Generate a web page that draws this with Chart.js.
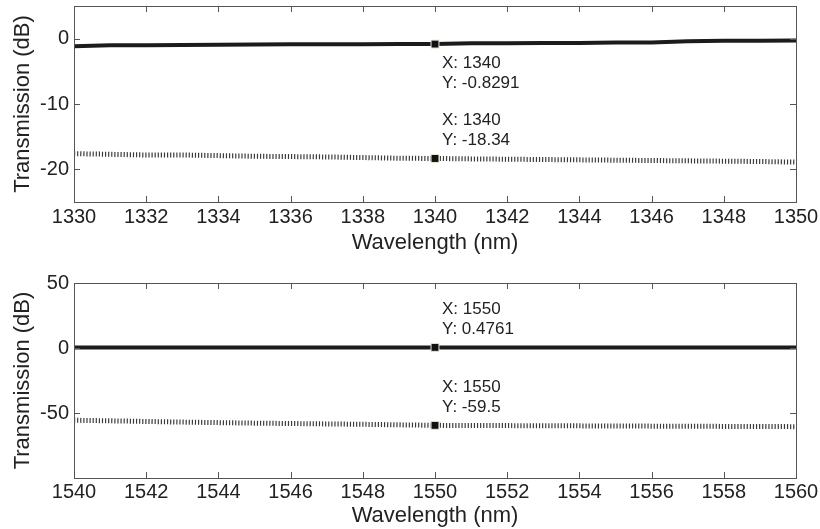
<!DOCTYPE html>
<html>
<head>
<meta charset="utf-8">
<script src="https://cdn.jsdelivr.net/npm/chart.js@4/dist/chart.umd.min.js"></script>
<style>
  body { margin: 0; background: #fff; }
  canvas { position: absolute; left: 0; }
  #topChart { top: 0; }
  #bottomChart { top: 258px; }
</style>
</head>
<body>
<canvas id="topChart" width="820" height="258"></canvas>
<canvas id="bottomChart" width="820" height="271"></canvas>
<script>
// 1310 nm band
const wlO = [1330, 1331, 1332, 1333, 1334, 1335, 1336, 1337, 1338, 1339, 1340,
             1341, 1342, 1343, 1344, 1345, 1346, 1347, 1348, 1349, 1350];
const thruO = [-1.15, -1.0, -1.0, -0.98, -0.95, -0.88, -0.86, -0.84, -0.84, -0.83, -0.8291,
               -0.72, -0.7, -0.68, -0.66, -0.6, -0.58, -0.38, -0.32, -0.3, -0.28];
const crossO = [-17.6, -17.7, -17.8, -17.8, -17.9, -18.0, -18.05, -18.1, -18.2, -18.3, -18.34,
                -18.4, -18.45, -18.5, -18.55, -18.6, -18.65, -18.7, -18.75, -18.8, -18.9];
const xTicksO = [1330, 1332, 1334, 1336, 1338, 1340, 1342, 1344, 1346, 1348, 1350];
const yTicksO = [-20, -10, 0];
const tipO = 1340;

// 1550 nm band
const wlC = [1540, 1541, 1542, 1543, 1544, 1545, 1546, 1547, 1548, 1549, 1550,
             1551, 1552, 1553, 1554, 1555, 1556, 1557, 1558, 1559, 1560];
const thruC = [0.45, 0.46, 0.46, 0.47, 0.47, 0.47, 0.48, 0.48, 0.48, 0.48, 0.4761,
               0.47, 0.47, 0.46, 0.46, 0.46, 0.45, 0.45, 0.45, 0.44, 0.44];
const crossC = [-55.6, -56.0, -56.5, -57.0, -57.4, -57.8, -58.1, -58.4, -58.7, -59.1, -59.5,
                -59.6, -59.7, -59.8, -59.9, -60.0, -60.1, -60.2, -60.3, -60.4, -60.5];
const xTicksC = [1540, 1542, 1544, 1546, 1548, 1550, 1552, 1554, 1556, 1558, 1560];
const yTicksC = [-50, 0, 50];
const tipC = 1550;

const FONT = '"Liberation Sans", Arial, sans-serif';
const INK = '#222';
const FRAME = '#555';

// matlab-style frame: full box plus inward tick marks on all four sides
const framePlugin = {
  id: 'frame',
  afterDraw(chart) {
    const { ctx, chartArea: a, scales } = chart;
    ctx.save();
    ctx.strokeStyle = FRAME;
    ctx.lineWidth = 1;
    ctx.strokeRect(Math.round(a.left) + 0.5, Math.round(a.top) + 0.5,
                   Math.round(a.right - a.left), Math.round(a.bottom - a.top));
    ctx.beginPath();
    scales.x.ticks.forEach(t => {
      const px = Math.round(scales.x.getPixelForValue(t.value)) + 0.5;
      ctx.moveTo(px, a.top); ctx.lineTo(px, a.top + 6);
      ctx.moveTo(px, a.bottom); ctx.lineTo(px, a.bottom - 6);
    });
    scales.y.ticks.forEach(t => {
      const py = Math.round(scales.y.getPixelForValue(t.value)) + 0.5;
      ctx.moveTo(a.left, py); ctx.lineTo(a.left + 6, py);
      ctx.moveTo(a.right, py); ctx.lineTo(a.right - 6, py);
    });
    ctx.stroke();
    ctx.restore();
  }
};

// data cursor labels next to the marked points
const tipPlugin = {
  id: 'datatips',
  afterDatasetsDraw(chart, args, opts) {
    const { ctx, scales } = chart;
    ctx.save();
    ctx.fillStyle = INK;
    ctx.font = '17px ' + FONT;
    ctx.textBaseline = 'alphabetic';
    chart.data.datasets.forEach((ds, i) => {
      const idx = ds.data.findIndex(p => p.x === opts.at);
      if (idx < 0) return;
      const v = ds.data[idx].y;
      const px = scales.x.getPixelForValue(opts.at) + 7;
      const py = scales.y.getPixelForValue(v);
      const off = opts.below[i] ? [24, 44] : [-33, -13];
      ctx.fillText('X: ' + opts.at, px, py + off[0]);
      ctx.fillText('Y: ' + v, px, py + off[1]);
    });
    ctx.restore();
  }
};

function makeChart(id, xs, thru, cross, xTicks, yTicks, yMin, yMax, tipAt, below, geo) {
  const pts = arr => xs.map((x, i) => ({ x: x, y: arr[i] }));
  const marker = ctx => (xs[ctx.dataIndex] === tipAt ? 5.6 : 0);
  return new Chart(document.getElementById(id), {
    type: 'line',
    data: {
      datasets: [
        {
          data: pts(thru),
          borderColor: '#1c1c1c',
          borderWidth: 4,
          pointStyle: 'rect',
          pointRadius: marker,
          pointBackgroundColor: '#111',
          pointBorderColor: '#e8e8d0',
          pointBorderWidth: 1
        },
        {
          data: pts(cross),
          borderColor: '#3a3a3a',
          borderWidth: 5,
          borderDash: [1.2, 1.9],
          borderCapStyle: 'butt',
          pointStyle: 'rect',
          pointRadius: marker,
          pointBackgroundColor: '#111',
          pointBorderColor: '#e8e8d0',
          pointBorderWidth: 1
        }
      ]
    },
    options: {
      responsive: false,
      animation: false,
      layout: { padding: { top: geo.top, right: 24, left: 0, bottom: 0 } },
      plugins: {
        legend: { display: false },
        tooltip: { enabled: false },
        datatips: { at: tipAt, below: below }
      },
      scales: {
        x: {
          type: 'linear',
          min: xs[0],
          max: xs[xs.length - 1],
          afterBuildTicks: s => { s.ticks = xTicks.map(v => ({ value: v })); },
          afterFit: s => { s.height = geo.xh; s.paddingLeft = 0; s.paddingRight = 0; },
          ticks: {
            font: { family: FONT, size: 20 },
            color: INK,
            padding: geo.xpad,
            maxRotation: 0,
            callback: v => String(v)
          },
          grid: { drawOnChartArea: false, drawTicks: false },
          border: { display: false },
          title: {
            display: true,
            text: 'Wavelength (nm)',
            font: { family: FONT, size: 22 },
            color: INK,
            padding: { top: 0, bottom: geo.tpad }
          }
        },
        y: {
          min: yMin,
          max: yMax,
          afterBuildTicks: s => { s.ticks = yTicks.map(v => ({ value: v })); },
          afterFit: s => { s.width = 74; s.paddingTop = 0; s.paddingBottom = 0; },
          ticks: {
            font: { family: FONT, size: 20 },
            color: INK,
            padding: 5,
            callback: v => String(v)
          },
          grid: { drawOnChartArea: false, drawTicks: false },
          border: { display: false },
          title: {
            display: true,
            text: 'Transmission (dB)',
            font: { family: FONT, size: 22 },
            color: INK,
            padding: { top: 10, bottom: 0 }
          }
        }
      }
    },
    plugins: [framePlugin, tipPlugin]
  });
}

makeChart('topChart', wlO, thruO, crossO, xTicksO, yTicksO, -25, 5, tipO, [true, false],
          { top: 6, xh: 56, xpad: 3, tpad: 2 });
makeChart('bottomChart', wlC, thruC, crossC, xTicksC, yTicksC, -100, 50, tipC, [false, false],
          { top: 25, xh: 51, xpad: 2, tpad: 0 });
</script>
</body>
</html>
